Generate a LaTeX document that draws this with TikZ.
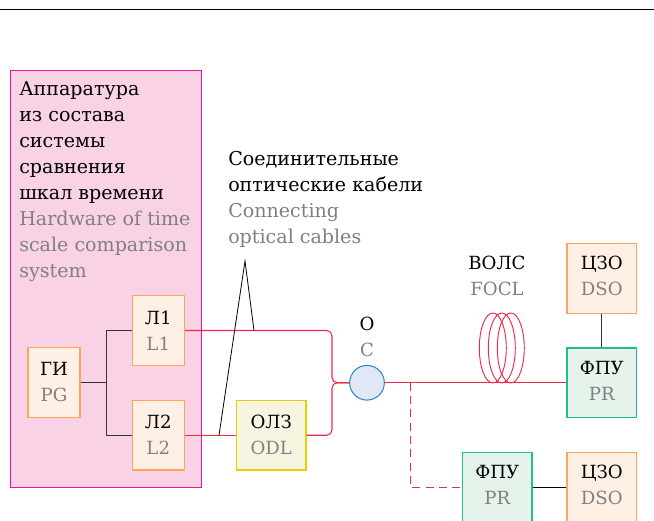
\documentclass[tikz,border=0pt]{standalone}
\usepackage{fontspec}
\setmainfont{DejaVu Serif}
\definecolor{tgray}{HTML}{808080}
\definecolor{fib}{HTML}{F0284B}
\definecolor{pinkf}{HTML}{F9D2E5}
\definecolor{pinkd}{HTML}{E6149A}
\definecolor{orf}{HTML}{FFF0E6}
\definecolor{ord}{HTML}{FFA55A}
\definecolor{grf}{HTML}{E6F3EB}
\definecolor{grd}{HTML}{1EBE91}
\definecolor{yef}{HTML}{F7F5E1}
\definecolor{yed}{HTML}{E1D200}
\definecolor{blf}{HTML}{E1E8F5}
\definecolor{bld}{HTML}{2882C8}
\newcommand{\gr}[1]{{\color{tgray}#1}}
\tikzset{
  txt/.style={font=\fontsize{14.3pt}{19.5pt}\selectfont,inner sep=0pt,align=left},
  lab/.style={font=\fontsize{13.6pt}{19.5pt}\selectfont,inner sep=0pt,align=center},
  box/.style={lab,draw,line width=0.9pt,minimum width=39pt,minimum height=52pt},
  wide/.style={box,minimum width=52pt},
  orbox/.style={box,fill=orf,draw=ord},
  orwide/.style={wide,fill=orf,draw=ord},
  grwide/.style={wide,fill=grf,draw=grd},
  yewide/.style={wide,fill=yef,draw=yed},
  up/.style={label={[lab,yshift=1.7pt]center:{#1}}},
  fibre/.style={draw=fib,line width=0.8pt},
  link/.style={draw=black!80,line width=0.75pt},
  pointer/.style={draw=black,line width=0.6pt},
}
\begin{document}
\begin{tikzpicture}[x=0.75pt,y=-0.75pt]
\useasboundingbox (0,0) rectangle (654,521);
\clip (0,0) rectangle (654,521);
\fill[white] (0,0) rectangle (654,521);
\draw[black,line width=0.75pt] (0,9.5) -- (654,9.5);
\node[fill=pinkf,draw=pinkd,line width=0.75pt,minimum width=143.25pt,minimum height=312.75pt,inner sep=0pt] (hw) at (106,278.5) {};
\node[txt,anchor=north west] (hwt) at (19,81.5) {Аппаратура\\из состава\\системы\\сравнения\\шкал времени\\\gr{Hardware of time}\\\gr{scale comparison}\\\gr{system}};
\node[txt,anchor=north west] (cab) at (228,151) {Соединительные\\оптические кабели\\\gr{Connecting}\\\gr{optical cables}};
\node[orbox] (gi) at (54,382.5) {ГИ\\\gr{PG}};
\node[orbox] (l1) at (158.25,330.5) {Л1\\\gr{L1}};
\node[orbox] (l2) at (158.25,435.25) {Л2\\\gr{L2}};
\node[yewide] (odl) at (271.25,435.25) {ОЛЗ\\\gr{ODL}};
\node[circle,draw=bld,fill=blf,line width=0.75pt,minimum size=26pt,inner sep=0pt] (c) at (367,382.75) {};
\node[lab] (ct) at (367,337) {О\\\gr{C}};
\node[lab] (vt) at (497,276) {ВОЛС\\\gr{FOCL}};
\node[orwide,up={ЦЗО\\\gr{DSO}}] (dso1) at (601.75,278.5) {};
\node[grwide,up={ФПУ\\\gr{PR}}] (pr1) at (601.75,382.75) {};
\node[grwide,up={ФПУ\\\gr{PR}}] (pr2) at (497.25,487.5) {};
\node[orwide,up={ЦЗО\\\gr{DSO}}] (dso2) at (601.75,487.5) {};
\coordinate (j) at (106,382.5);
\coordinate (b) at (332,382.75);
\coordinate (t) at (410.5,382.75);
\coordinate (apex) at (245,261);
\coordinate (p1) at (254,330.5);
\coordinate (p2) at (219,435.25);
% control lines
\draw[link] (gi) -- (j);
\draw[link] (l1.west) -| (j);
\draw[link] (l2.west) -| (j);
\draw[link] (dso1) -- (pr1);
\draw[link,black] (pr2) -- (dso2);
% fibres
\draw[fibre,rounded corners=4pt] (l1.east) -| (b) -- (c.west);
\draw[fibre] (l2.east) -- (odl.west);
\draw[fibre,rounded corners=4pt] (odl.east) -| (b) -- (c.west);
\draw[fibre] (c.east) -- (pr1.west);
\draw[fibre,dash pattern=on 6pt off 4pt] (t) |- (pr2.west);
\foreach \cx in {492.8,501.8,510.8}
  \draw[draw=fib,line width=0.7pt] (\cx,348) ellipse [x radius=13.5,y radius=35];
% pointers
\draw[pointer] (p1) -- (apex) -- (p2);
\end{tikzpicture}
\end{document}
